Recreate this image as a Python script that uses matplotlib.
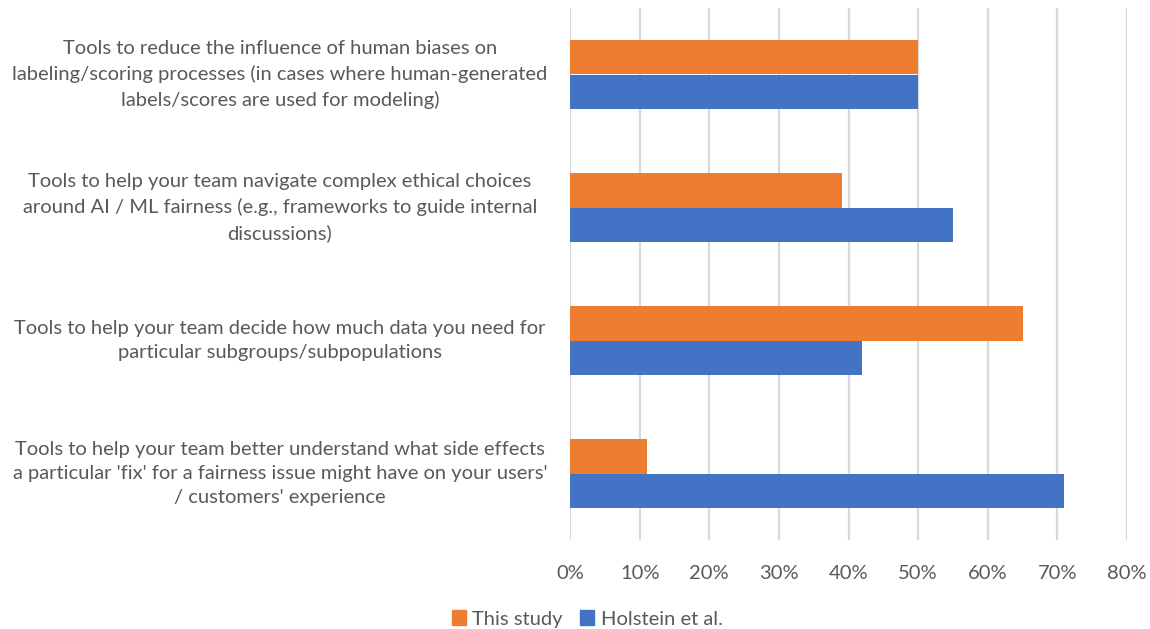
import matplotlib
matplotlib.use("Agg")
import matplotlib.pyplot as plt
from matplotlib.patches import Patch
from matplotlib.ticker import PercentFormatter
import numpy as np

categories = [
    "Tools to reduce the influence of human biases on\nlabeling/scoring processes (in cases where human-generated\nlabels/scores are used for modeling)",
    "Tools to help your team navigate complex ethical choices\naround AI / ML fairness (e.g., frameworks to guide internal\ndiscussions)",
    "Tools to help your team decide how much data you need for\nparticular subgroups/subpopulations",
    "Tools to help your team better understand what side effects\na particular 'fix' for a fairness issue might have on your users'\n/ customers' experience",
]
this_study = [50, 39, 65, 11]
holstein = [50, 55, 42, 71]
series_names = ["This study", "Holstein et al."]
x_ticks = [0, 10, 20, 30, 40, 50, 60, 70, 80]

ORANGE = "#ED7D31"
BLUE = "#4472C4"
TEXT = "#595959"
GRID = "#D9D9D9"
FONT = "Lato"
FS = 14.5

W, H = 1150, 629
fig = plt.figure(figsize=(W / 100, H / 100), dpi=100)
ax = fig.add_axes([570 / W, 1 - 540 / H, (1127 - 570) / W, (540 - 8) / H])

y = np.arange(len(categories))
bh = 0.263
ax.barh(y - bh / 2, this_study, height=bh, color=ORANGE, zorder=3)
ax.barh(y + bh / 2, holstein, height=bh, color=BLUE, zorder=3)

ax.set_ylim(len(categories) - 0.5, -0.5)
ax.set_xlim(0, 80)
ax.set_xticks(x_ticks)
ax.xaxis.set_major_formatter(PercentFormatter(decimals=0))
ax.set_yticks([])
ax.tick_params(axis="x", length=0, pad=18, labelsize=FS, labelcolor=TEXT)
for lab in ax.get_xticklabels():
    lab.set_fontfamily(FONT)
ax.grid(axis="x", color=GRID, linewidth=1.6, zorder=0)
for s in ax.spines.values():
    s.set_visible(False)

trans = matplotlib.transforms.blended_transform_factory(fig.transFigure, ax.transData)
for yi, label in zip(y, categories):
    ax.text(280 / W, yi, label, transform=trans, ha="center", va="center",
            multialignment="center", fontsize=FS, color=TEXT, family=FONT,
            linespacing=1.52)

handles = [Patch(color=ORANGE), Patch(color=BLUE)]
leg = fig.legend(handles, series_names, loc="center", bbox_to_anchor=(587 / W, 1 - 619 / H),
                 ncol=2, frameon=False, handlelength=0.7, handleheight=0.7,
                 handletextpad=0.3, columnspacing=0.9,
                 prop={"family": FONT, "size": FS})
for t in leg.get_texts():
    t.set_color(TEXT)

fig.savefig("out.png", dpi=100)
